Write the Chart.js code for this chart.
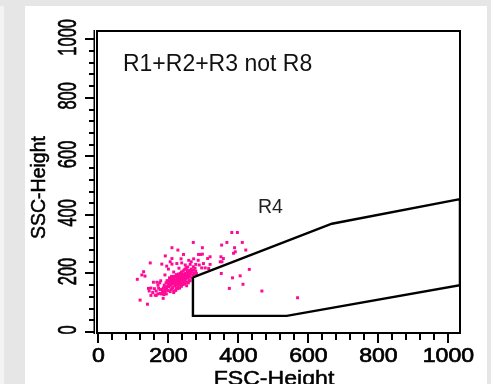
<!DOCTYPE html>
<html><head><meta charset="utf-8">
<script src="https://cdn.jsdelivr.net/npm/chart.js@4/dist/chart.umd.min.js"></script>
<style>html,body{margin:0;padding:0;background:#e6e6e6;overflow:hidden}canvas{display:block}</style>
</head><body>
<canvas id="c" width="491" height="384"></canvas>
<script>
const xAxisTitle = 'FSC-Height';
const yAxisTitle = 'SSC-Height';
const plotTitle = 'R1+R2+R3 not R8';
const gateName = 'R4';
const majorTicks = [0, 200, 400, 600, 800, 1000];
const tickLabels = ['0', '200', '400', '600', '800', '1000'];
const minorTicks = [0, 40, 80, 120, 160, 200, 240, 280, 320, 360, 400, 440, 480, 520, 560, 600, 640, 680, 720, 760, 800, 840, 880, 920, 960, 1000];
const gateFSC = [270, 667, 1033, 1033, 538, 270, 270];
const gateSSC = [187, 370, 454, 160, 55, 55, 187];
const eventFSC = [
  195,198,202,205,208,210,212,214,216,218,
  220,222,224,225,227,229,230,232,233,235,
  236,238,240,241,243,244,246,247,249,250,
  252,253,255,256,258,259,261,262,264,265,
  267,268,270,272,274,276,278,280,200,204,
  207,211,215,219,223,226,228,231,234,237,
  239,242,245,248,251,254,185,188,191,193,
  196,199,203,206,209,180,183,187,190,194,
  215,221,226,232,237,242,247,252,257,262,
  170,175,178,172,176,228,234,239,244,217,
  221,226,231,236,241,246,251,256,260,213,
  148,181,210,224,238,248,262,271,278,288,
  300,319,315,295,305,191,210,243,286,291,
  297,312,319,350,357,348,353,210,227,271,
  297,352,367,389,391,411,421,386,381,397,
  129,124,133,111,157,167,150,160,145,155,
  165,150,165,170,119,140,143,176,185,162,
  351,383,405,431,413,374,467,569,272,258,
  236,285,265,255,230,200,215,190,205,195,
  182,188,194,200,206,212,218,224,230,236,
  242,248,254,260,266,198,204,210,216,222
];
const eventSSC = [
  150,142,155,138,160,147,152,165,140,158,
  170,150,162,176,155,168,180,160,172,185,
  165,178,190,170,182,195,175,188,200,180,
  192,170,205,186,196,178,210,190,200,215,
  185,205,195,212,200,218,208,200,165,172,
  145,178,182,188,192,185,198,195,200,205,
  198,208,212,215,220,210,150,160,143,168,
  175,158,185,180,190,130,138,128,135,130,
  135,142,148,150,156,162,165,158,168,175,
  160,168,175,150,145,174,178,184,168,173,
  163,167,186,192,181,196,186,198,192,168,
  236,232,232,234,236,229,231,223,231,229,
  234,231,217,219,219,260,251,265,265,265,
  266,251,257,257,251,240,240,288,280,306,
  288,297,306,288,274,306,280,269,340,340,
  206,195,191,180,170,170,150,148,140,135,
  140,125,125,130,109,95,149,132,115,126,
  200,185,192,214,163,149,140,117,250,245,
  250,245,240,222,218,215,205,195,240,225,
  145,152,155,162,168,172,176,180,186,190,
  194,198,202,206,210,175,180,185,190,196
];

const frame = {
  id: 'frame',
  beforeDraw(chart) {
    const c = chart.ctx;
    c.save();
    c.fillStyle = '#e6e6e6'; c.fillRect(0, 0, 491, 384);
    c.fillStyle = '#f3f3f3'; c.fillRect(0, 6, 4, 378);
    c.fillStyle = '#ffffff'; c.fillRect(25, 6, 462, 378);
    c.restore();
  },
  afterDraw(chart) {
    const c = chart.ctx, a = chart.chartArea, xs = chart.scales.x, ys = chart.scales.y;
    c.save();
    c.strokeStyle = '#000'; c.fillStyle = '#000';
    c.lineWidth = 2;
    c.strokeRect(a.left + 1, a.top + 1, a.right - a.left - 2, a.bottom - a.top - 2);
    c.lineWidth = 1.5;
    c.beginPath(); c.moveTo(a.left - 1.75, a.top); c.lineTo(a.left - 1.75, a.bottom); c.stroke();
    c.lineWidth = 2;
    for (const v of minorTicks) {
      const px = Math.round(xs.getPixelForValue(v));
      const major = majorTicks.includes(v);
      c.beginPath(); c.moveTo(px, a.bottom); c.lineTo(px, a.bottom + (major ? 9 : 6)); c.stroke();
    }
    for (const v of minorTicks) {
      const py = Math.round(ys.getPixelForValue(v));
      const major = majorTicks.includes(v);
      c.beginPath(); c.moveTo(a.left - 1, py); c.lineTo(a.left - (major ? 11 : 7), py); c.stroke();
    }
    const heavy = (txt, x, y) => { c.fillText(txt, x, y); c.strokeText(txt, x, y); };
    c.lineWidth = 0.7;
    c.font = '21px "Liberation Sans", Arial, sans-serif';
    c.textAlign = 'center'; c.textBaseline = 'alphabetic';
    majorTicks.forEach((v, i) => {
      const px = xs.getPixelForValue(v);
      c.save(); c.translate(px, 362); c.scale(1.1, 1); heavy(tickLabels[i], 0, 0); c.restore();
    });
    c.font = '25px "Liberation Sans", Arial, sans-serif';
    majorTicks.forEach((v, i) => {
      const py = ys.getPixelForValue(v) - 2;
      c.save(); c.translate(76, py); c.rotate(-Math.PI / 2); c.scale(0.66, 1); heavy(tickLabels[i], 0, 0); c.restore();
    });
    c.lineWidth = 0.5;
    c.font = '21px "Liberation Sans", Arial, sans-serif';
    c.save(); c.translate(274, 385); c.scale(1.1, 1); heavy(xAxisTitle, 0, 0); c.restore();
    c.font = '19.5px "Liberation Sans", Arial, sans-serif';
    c.save(); c.translate(45, 187.5); c.rotate(-Math.PI / 2); heavy(yAxisTitle, 0, 0); c.restore();
    c.textAlign = 'left';
    c.fillStyle = '#111';
    c.font = '23px "Liberation Sans", Arial, sans-serif';
    c.fillText(plotTitle, xs.getPixelForValue(70), ys.getPixelForValue(892));
    c.font = '19.5px "Liberation Sans", Arial, sans-serif';
    c.fillStyle = '#222';
    c.fillText(gateName, xs.getPixelForValue(456), ys.getPixelForValue(406));
    c.restore();
  }
};

new Chart(document.getElementById('c'), {
  type: 'scatter',
  data: {
    datasets: [
      {
        label: gateName,
        data: gateFSC.map((x, i) => ({ x: x, y: gateSSC[i] })),
        showLine: true, borderColor: '#000', borderWidth: 2.4, pointRadius: 0, tension: 0, fill: false
      },
      {
        label: 'events',
        data: eventFSC.map((x, i) => ({ x: x, y: eventSSC[i] })),
        showLine: false, pointStyle: 'rect', pointRadius: 2.1,
        pointBackgroundColor: '#ff0a96', pointBorderWidth: 0, pointBorderColor: '#ff0a96'
      }
    ]
  },
  options: {
    responsive: false, animation: false, devicePixelRatio: 1, events: [],
    layout: { padding: { left: 96, right: 30, top: 30, bottom: 50 } },
    plugins: { legend: { display: false }, tooltip: { enabled: false } },
    scales: {
      x: { type: 'linear', min: -7, max: 1036, display: false },
      y: { type: 'linear', min: -6.8, max: 1031.8, display: false }
    }
  },
  plugins: [frame]
});
</script>
</body></html>
